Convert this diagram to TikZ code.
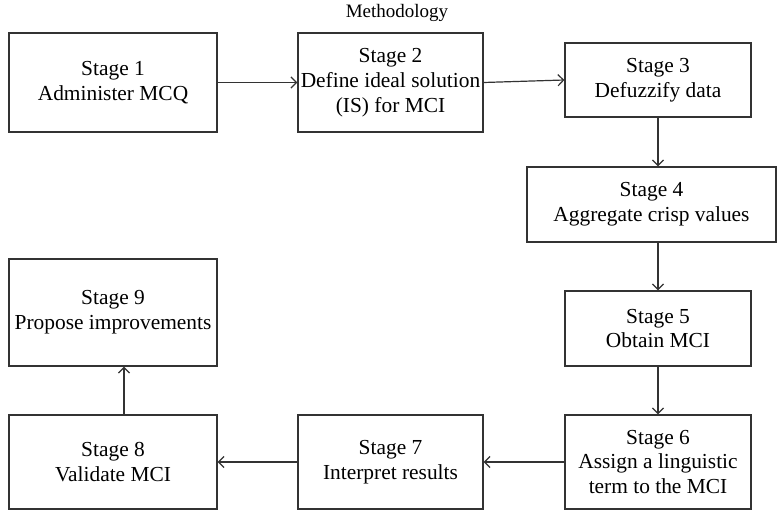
\documentclass[tikz,border=0pt]{standalone}
\usepackage{fontspec}
\setmainfont{Liberation Serif}
\usetikzlibrary{arrows.meta}

\tikzset{
  stagebox/.style={draw=black!80, line width=0.6pt, inner sep=0pt, align=center,
    font=\fontsize{10.7}{12.4}\selectfont},
  flow/.style={draw=black!80, line width=0.6pt, -{Straight Barb[length=2.8pt,width=5.6pt]}}
}

\begin{document}
\begin{tikzpicture}[x=0.5pt, y=-0.5pt]
    \useasboundingbox (0,0) rectangle (777,513);

    % Title
    \node[font=\fontsize{9.5}{11}\selectfont] (title) at (397,13) {Methodology};

    % Top row
    \node[stagebox, minimum width=104pt, minimum height=49.5pt] (s1) at (113,82.5) {Stage 1\\Administer MCQ};
    \node[stagebox, minimum width=92.5pt, minimum height=49.5pt] (s2) at (390.5,82.5) {Stage 2\\Define ideal solution\\(IS) for MCI};
    \node[stagebox, minimum width=93pt, minimum height=37pt] (s3) at (658,80) {Stage 3\\Defuzzify data};

    % Right column
    \node[stagebox, minimum width=124.5pt, minimum height=37.5pt] (s4) at (651.5,204.5) {Stage 4\\Aggregate crisp values};
    \node[stagebox, minimum width=93pt, minimum height=37.5pt] (s5) at (658,328.5) {Stage 5\\Obtain MCI};

    % Bottom row
    \node[stagebox, minimum width=93pt, minimum height=47pt] (s6) at (658,462) {Stage 6\\Assign a linguistic\\term to the MCI};
    \node[stagebox, minimum width=92.5pt, minimum height=47pt] (s7) at (390.5,462) {Stage 7\\Interpret results};
    \node[stagebox, minimum width=104pt, minimum height=47pt] (s8) at (113,462) {Stage 8\\Validate MCI};
    \node[stagebox, minimum width=104pt, minimum height=53.5pt] (s9) at (113,312.5) {Stage 9\\Propose improvements};

    % Flow
    \draw[flow] (s1.east) -- (s2.west);
    \draw[flow] (s2.east) -- (s3.west);
    \draw[flow] (s3.south) -- (s3.south |- s4.north);
    \draw[flow] (s3.south |- s4.south) -- (s5.north);
    \draw[flow] (s5.south) -- (s6.north);
    \draw[flow] (s6.west) -- (s7.east);
    \draw[flow] (s7.west) -- (s8.east);
    \draw[flow] ([xshift=5.5pt]s8.north) -- ([xshift=5.5pt]s9.south);
\end{tikzpicture}
\end{document}
